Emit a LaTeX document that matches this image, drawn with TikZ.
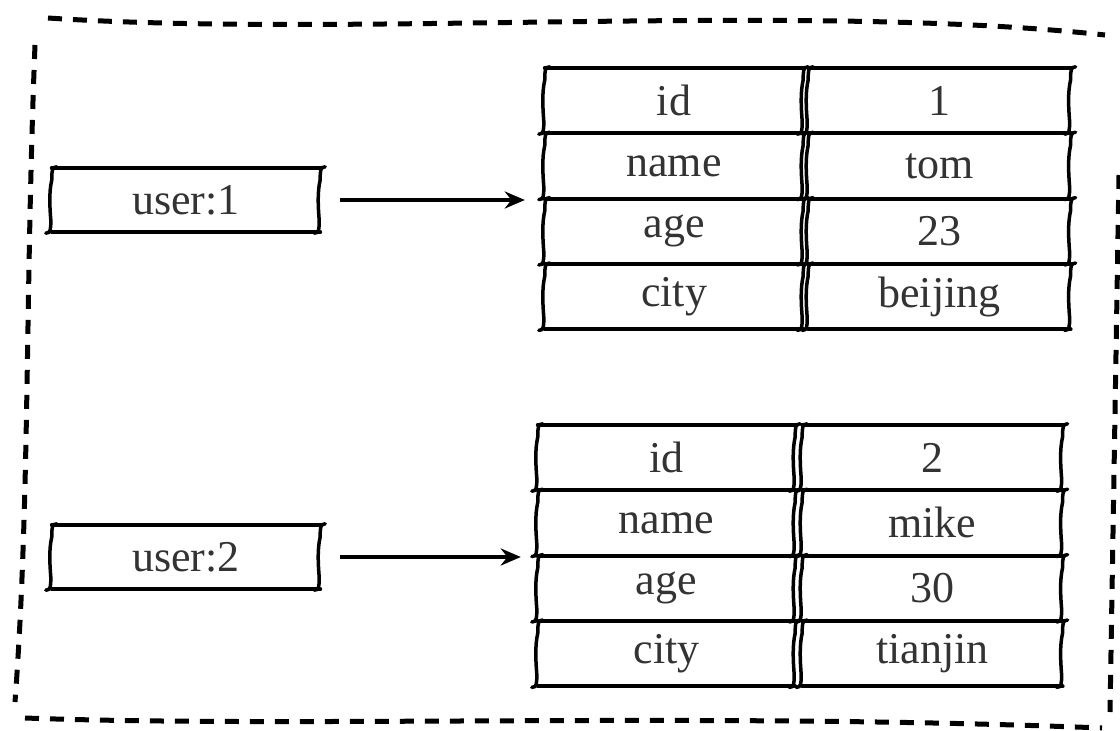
\documentclass[tikz,border=0pt]{standalone}
\usepackage{fontspec}
\setmainfont{Liberation Serif}
\usetikzlibrary{arrows.meta,positioning}
\tikzstyle{cell}=[rectangle, inner sep=0pt, minimum height=65pt,
    text=black!80, font=\fontsize{44}{48}\selectfont]
\tikzstyle{keybox}=[cell, minimum width=268pt, minimum height=64pt]
\tikzstyle{keycell}=[cell, minimum width=258pt]
\tikzstyle{valcell}=[cell, minimum width=262pt]
\tikzstyle{edgeline}=[line width=4pt, line cap=round]
\tikzstyle{sideline}=[line width=3.5pt, line cap=round]
\tikzstyle{frame}=[line width=5pt, dash pattern=on 14pt off 11pt]
\tikzstyle{arrow}=[line width=3.5pt, -{Stealth[length=20pt,width=17pt]}]
% one hand drawn side, from corner #1 down to corner #2
\newcommand{\sketchside}[2]{
  \draw[sideline] ([shift={(5pt,1pt)}]#1)
    .. controls ([shift={(0pt,1pt)}]#1) and ([shift={(0pt,-3pt)}]#1)
    .. ([shift={(0pt,-12pt)}]#1)
    .. controls ([shift={(-3pt,-25pt)}]#1) and ([shift={(-2pt,25pt)}]#2)
    .. ([shift={(-1pt,12pt)}]#2)
    .. controls ([shift={(-1pt,3pt)}]#2) and ([shift={(-1pt,-1pt)}]#2)
    .. ([shift={(-6pt,-1pt)}]#2);
}
% hand drawn box round a node
\newcommand{\sketchbox}[1]{
  \draw[edgeline] (#1.north west) -- (#1.north east);
  \draw[edgeline] (#1.south west) -- (#1.south east);
  \sketchside{#1.north west}{#1.south west}
  \sketchside{#1.north east}{#1.south east}
}
\begin{document}
\begin{tikzpicture}[x=1pt,y=-1pt]
  \useasboundingbox (0,0) rectangle (1120,731);

  % outer frame
  \draw[frame] (48,18) .. controls (350,38) and (800,2) .. (1105,35);
  \draw[frame] (35,45) .. controls (25,300) and (30,500) .. (15,702);
  \draw[frame] (1119,175) -- (1110,712);
  \draw[frame] (25,718) .. controls (300,728) and (700,712) .. (1102,728);

  % keys
  \node[keybox] (u1) at (186,200) {user:1};
  \node[keybox] (u2) at (186,557) {user:2};

  % first hash
  \node[keycell] (k1id) at (674,100.5) {id};
  \node[keycell, below=0pt of k1id] (k1name) {name};
  \node[keycell, below=0pt of k1name] (k1age) {age};
  \node[keycell, below=0pt of k1age] (k1city) {city};
  \node[valcell, right=5pt of k1id] (v1id) {1};
  \node[valcell, right=5pt of k1name] (v1name) {tom};
  \node[valcell, right=5pt of k1age] (v1age) {23};
  \node[valcell, right=5pt of k1city] (v1city) {beijing};

  % second hash
  \node[keycell, minimum width=257pt] (k2id) at (666.5,457.5) {id};
  \node[keycell, minimum width=257pt, below=0pt of k2id] (k2name) {name};
  \node[keycell, minimum width=257pt, below=0pt of k2name] (k2age) {age};
  \node[keycell, minimum width=257pt, below=0pt of k2age] (k2city) {city};
  \node[valcell, minimum width=260pt, right=7pt of k2id] (v2id) {2};
  \node[valcell, minimum width=260pt, right=7pt of k2name] (v2name) {mike};
  \node[valcell, minimum width=260pt, right=7pt of k2age] (v2age) {30};
  \node[valcell, minimum width=260pt, right=7pt of k2city] (v2city) {tianjin};

  \foreach \n in {u1,u2,k1id,k1name,k1age,k1city,v1id,v1name,v1age,v1city,
      k2id,k2name,k2age,k2city,v2id,v2name,v2age,v2city}
    \sketchbox{\n};

  \draw[arrow, shorten <=20pt, shorten >=20pt] (u1.east) -- (u1.east -| k1age.west);
  \draw[arrow, shorten <=20pt, shorten >=17pt] (u2.east) -- (u2.east -| k2age.west);
\end{tikzpicture}
\end{document}
